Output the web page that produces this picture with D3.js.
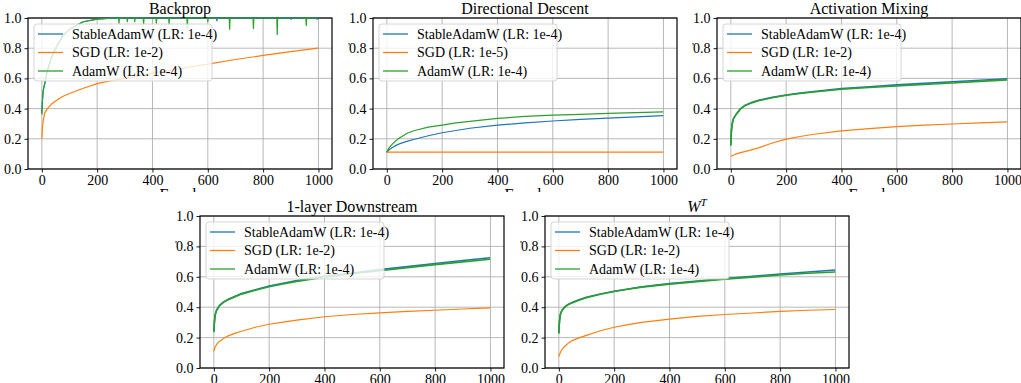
<!DOCTYPE html>
<html>
<head>
<meta charset="utf-8">
<script src="https://cdn.jsdelivr.net/npm/d3@7"></script>
<style>
  body { margin: 0; background: #fff; }
  svg { display: block; }
  text { fill: #000; }
</style>
</head>
<body>
<div id="chart"></div>
<script>
const FONT = "'Liberation Serif', 'DejaVu Serif', 'Times New Roman', serif";

const epochs = [0, 2, 5, 10, 20, 35, 50, 75, 100, 150, 200, 250, 300, 400, 500, 600, 700, 800, 900, 999];
const xTicks = [0, 200, 400, 600, 800, 1000];
const yTicks = [0, 0.2, 0.4, 0.6, 0.8, 1.0];
const optimizers = ["StableAdamW", "SGD", "AdamW"];
const colors = ["#1f77b4", "#ff7f0e", "#2ca02c"];

// Backprop
const backpropStable = [0.37, 0.45, 0.52, 0.56, 0.65, 0.74, 0.80, 0.88, 0.925, 0.975, 0.993, 0.999, 1.0, 1.0, 1.0, 1.0, 1.0, 1.0, 1.0, 1.0];
const backpropSgd = [0.20, 0.27, 0.32, 0.37, 0.40, 0.43, 0.45, 0.48, 0.50, 0.535, 0.565, 0.585, 0.60, 0.635, 0.665, 0.695, 0.725, 0.752, 0.777, 0.80];
const backpropAdam = [0.36, 0.45, 0.52, 0.56, 0.65, 0.74, 0.80, 0.88, 0.925, 0.975, 0.993, 0.999, 1.0, 1.0, 1.0, 1.0, 1.0, 1.0, 1.0, 1.0];
const backpropStableSpikeEpochs = [633, 901, 995];
const backpropStableSpikeValues = [0.98, 0.99, 0.99];
const backpropAdamSpikeEpochs = [279, 309, 336, 368, 414, 460, 526, 600, 679, 765, 851, 956];
const backpropAdamSpikeValues = [0.965, 0.975, 0.975, 0.955, 0.965, 0.955, 0.93, 0.975, 0.925, 0.93, 0.89, 0.95];

// Directional Descent
const directionalStable = [0.11, 0.115, 0.12, 0.13, 0.142, 0.158, 0.17, 0.185, 0.197, 0.22, 0.24, 0.255, 0.27, 0.29, 0.305, 0.318, 0.328, 0.337, 0.345, 0.353];
const directionalSgd = [0.112, 0.112, 0.112, 0.112, 0.112, 0.112, 0.112, 0.112, 0.112, 0.112, 0.112, 0.112, 0.112, 0.112, 0.112, 0.112, 0.112, 0.112, 0.112, 0.112];
const directionalAdam = [0.11, 0.12, 0.13, 0.145, 0.165, 0.19, 0.21, 0.238, 0.255, 0.277, 0.29, 0.305, 0.315, 0.335, 0.348, 0.357, 0.362, 0.368, 0.373, 0.378];

// Activation Mixing
const mixingStable = [0.16, 0.25, 0.30, 0.335, 0.365, 0.40, 0.42, 0.44, 0.455, 0.475, 0.49, 0.503, 0.513, 0.533, 0.545, 0.557, 0.567, 0.578, 0.588, 0.598];
const mixingSgd = [0.082, 0.085, 0.088, 0.093, 0.10, 0.108, 0.115, 0.127, 0.14, 0.172, 0.198, 0.215, 0.23, 0.252, 0.268, 0.28, 0.29, 0.298, 0.305, 0.312];
const mixingAdam = [0.155, 0.25, 0.30, 0.335, 0.363, 0.398, 0.418, 0.438, 0.452, 0.472, 0.488, 0.50, 0.51, 0.528, 0.54, 0.55, 0.56, 0.57, 0.58, 0.59];

// 1-layer Downstream
const downstreamStable = [0.24, 0.30, 0.35, 0.38, 0.41, 0.435, 0.45, 0.47, 0.49, 0.515, 0.54, 0.557, 0.575, 0.603, 0.625, 0.647, 0.667, 0.688, 0.707, 0.725];
const downstreamSgd = [0.11, 0.125, 0.14, 0.155, 0.175, 0.195, 0.21, 0.228, 0.242, 0.268, 0.288, 0.302, 0.315, 0.337, 0.352, 0.363, 0.372, 0.38, 0.388, 0.396];
const downstreamAdam = [0.235, 0.30, 0.35, 0.38, 0.408, 0.432, 0.447, 0.467, 0.486, 0.512, 0.535, 0.553, 0.57, 0.598, 0.62, 0.64, 0.66, 0.68, 0.698, 0.715];

// W^T
const transposeStable = [0.23, 0.30, 0.35, 0.375, 0.40, 0.42, 0.433, 0.45, 0.465, 0.487, 0.505, 0.52, 0.535, 0.555, 0.572, 0.588, 0.603, 0.618, 0.632, 0.645];
const transposeSgd = [0.075, 0.085, 0.10, 0.118, 0.14, 0.165, 0.182, 0.20, 0.215, 0.245, 0.268, 0.285, 0.30, 0.322, 0.34, 0.352, 0.362, 0.372, 0.38, 0.385];
const transposeAdam = [0.225, 0.30, 0.348, 0.373, 0.398, 0.418, 0.43, 0.448, 0.463, 0.485, 0.503, 0.518, 0.532, 0.552, 0.568, 0.585, 0.598, 0.612, 0.623, 0.632];

const backpropLrs = ["1e-4", "1e-2", "1e-4"];
const directionalLrs = ["1e-4", "1e-5", "1e-4"];
const mixingLrs = ["1e-4", "1e-2", "1e-4"];
const downstreamLrs = ["1e-4", "1e-2", "1e-4"];
const transposeLrs = ["1e-4", "1e-2", "1e-4"];

// turn a read-off series into points, adding the downward spikes on the 1.0 plateau
function toPoints(values, spikeEpochs = [], spikeValues = []) {
  const pts = epochs.map((e, i) => [e, values[i]]);
  spikeEpochs.forEach((e, i) => {
    pts.push([e - 1.5, 1.0], [e, spikeValues[i]], [e + 1.5, 1.0]);
  });
  return pts.sort((a, b) => a[0] - b[0]);
}

const panels = [
  { title: "Backprop", lrs: backpropLrs, series: [
      toPoints(backpropStable, backpropStableSpikeEpochs, backpropStableSpikeValues),
      toPoints(backpropSgd),
      toPoints(backpropAdam, backpropAdamSpikeEpochs, backpropAdamSpikeValues)] },
  { title: "Directional Descent", lrs: directionalLrs, series: [
      toPoints(directionalStable), toPoints(directionalSgd), toPoints(directionalAdam)] },
  { title: "Activation Mixing", lrs: mixingLrs, series: [
      toPoints(mixingStable), toPoints(mixingSgd), toPoints(mixingAdam)] },
  { title: "1-layer Downstream", lrs: downstreamLrs, series: [
      toPoints(downstreamStable), toPoints(downstreamSgd), toPoints(downstreamAdam)] },
  { title: "W^T", lrs: transposeLrs, series: [
      toPoints(transposeStable), toPoints(transposeSgd), toPoints(transposeAdam)] }
];

// where each axes box sits in the figure
const boxes = [
  { left: 28, top: 18, w: 304, h: 151, row: 0 },
  { left: 373, top: 18, w: 304, h: 151, row: 0 },
  { left: 717, top: 18, w: 304, h: 151, row: 0 },
  { left: 200, top: 216, w: 304, h: 152, row: 1 },
  { left: 545, top: 216, w: 304, h: 152, row: 1 }
];

const width = 1021;
const height = 383;
const svg = d3.select("#chart").append("svg")
  .attr("width", width)
  .attr("height", height)
  .attr("font-family", FONT);

// clip for the top-row x labels, which the bottom row covers
svg.append("clipPath").attr("id", "topRowClip")
  .append("rect").attr("x", 0).attr("y", 0).attr("width", width).attr("height", 192);

panels.forEach((p, k) => {
  const b = boxes[k];
  const x = d3.scaleLinear().domain([-50, 1049]).range([b.left, b.left + b.w]);
  const y = d3.scaleLinear().domain([0, 1]).range([b.top + b.h, b.top]);
  const g = svg.append("g");

  // grid
  g.append("g").selectAll("line").data(xTicks).join("line")
    .attr("x1", d => x(d)).attr("x2", d => x(d))
    .attr("y1", b.top).attr("y2", b.top + b.h)
    .attr("stroke", "#b0b0b0").attr("stroke-width", 0.9);
  g.append("g").selectAll("line").data(yTicks).join("line")
    .attr("x1", b.left).attr("x2", b.left + b.w)
    .attr("y1", d => y(d)).attr("y2", d => y(d))
    .attr("stroke", "#b0b0b0").attr("stroke-width", 0.9);

  // axes
  const xAxis = g.append("g")
    .attr("transform", `translate(0,${b.top + b.h})`)
    .call(d3.axisBottom(x).tickValues(xTicks).tickFormat(d3.format("d")).tickSizeOuter(0).tickSize(3.5).tickPadding(3));
  const yAxis = g.append("g")
    .attr("transform", `translate(${b.left},0)`)
    .call(d3.axisLeft(y).tickValues(yTicks).tickFormat(d3.format(".1f")).tickSizeOuter(0).tickSize(3.5).tickPadding(3));
  [xAxis, yAxis].forEach(a => {
    a.attr("font-family", FONT).attr("font-size", 14);
    a.select(".domain").remove();
    a.selectAll("text").attr("fill", "#000");
    a.selectAll("line").attr("stroke", "#000").attr("stroke-width", 0.9);
  });

  // frame
  g.append("rect")
    .attr("x", b.left).attr("y", b.top).attr("width", b.w).attr("height", b.h)
    .attr("fill", "none").attr("stroke", "#000").attr("stroke-width", 1.2);

  // curves
  const clipId = "clip" + k;
  svg.append("clipPath").attr("id", clipId)
    .append("rect").attr("x", b.left).attr("y", b.top - 1).attr("width", b.w).attr("height", b.h + 1);
  const line = d3.line().x(d => x(d[0])).y(d => y(d[1]));
  g.append("g").attr("clip-path", `url(#${clipId})`)
    .selectAll("path").data(p.series).join("path")
    .attr("d", line)
    .attr("fill", "none")
    .attr("stroke", (d, i) => colors[i])
    .attr("stroke-width", (d, i) => (k >= 2 && i !== 1) ? 1.6 : 1.2)
    .attr("stroke-linejoin", "round");

  // title
  const title = g.append("text")
    .attr("x", b.left + b.w / 2)
    .attr("y", b.top - 4)
    .attr("text-anchor", "middle")
    .attr("font-size", 16);
  if (p.title === "W^T") {
    title.append("tspan").attr("font-style", "italic").text("W");
    title.append("tspan").attr("font-style", "italic").attr("font-size", 11).attr("dy", -6).text("T");
  } else {
    title.text(p.title);
  }

  // remains of the y label, clipped by the figure
  g.append("text")
    .attr("x", b.left - 25).attr("y", y(0.8) + 2)
    .attr("font-size", 11)
    .text("'");

  // x label (only its top shows in the top row)
  if (b.row === 0) {
    g.append("text")
      .attr("clip-path", "url(#topRowClip)")
      .attr("x", b.left + b.w / 2)
      .attr("y", 200)
      .attr("text-anchor", "middle")
      .attr("font-size", 16)
      .text("Epoch");
  }

  // legend
  const lg = g.append("g").attr("transform", `translate(${b.left + 6},${b.top + 6})`);
  lg.append("rect")
    .attr("width", 178).attr("height", 57)
    .attr("rx", 3).attr("ry", 3)
    .attr("fill", "#fff").attr("fill-opacity", 0.8)
    .attr("stroke", "#d0d0d0").attr("stroke-width", 0.9);
  optimizers.forEach((name, i) => {
    const ry = 10 + i * 18.5;
    lg.append("line")
      .attr("x1", 4).attr("x2", 29)
      .attr("y1", ry).attr("y2", ry)
      .attr("stroke", colors[i]).attr("stroke-width", 1.3);
    lg.append("text")
      .attr("x", 38).attr("y", ry + 4.5)
      .attr("font-size", 14)
      .text(`${name} (LR: ${p.lrs[i]})`);
  });
});
</script>
</body>
</html>
